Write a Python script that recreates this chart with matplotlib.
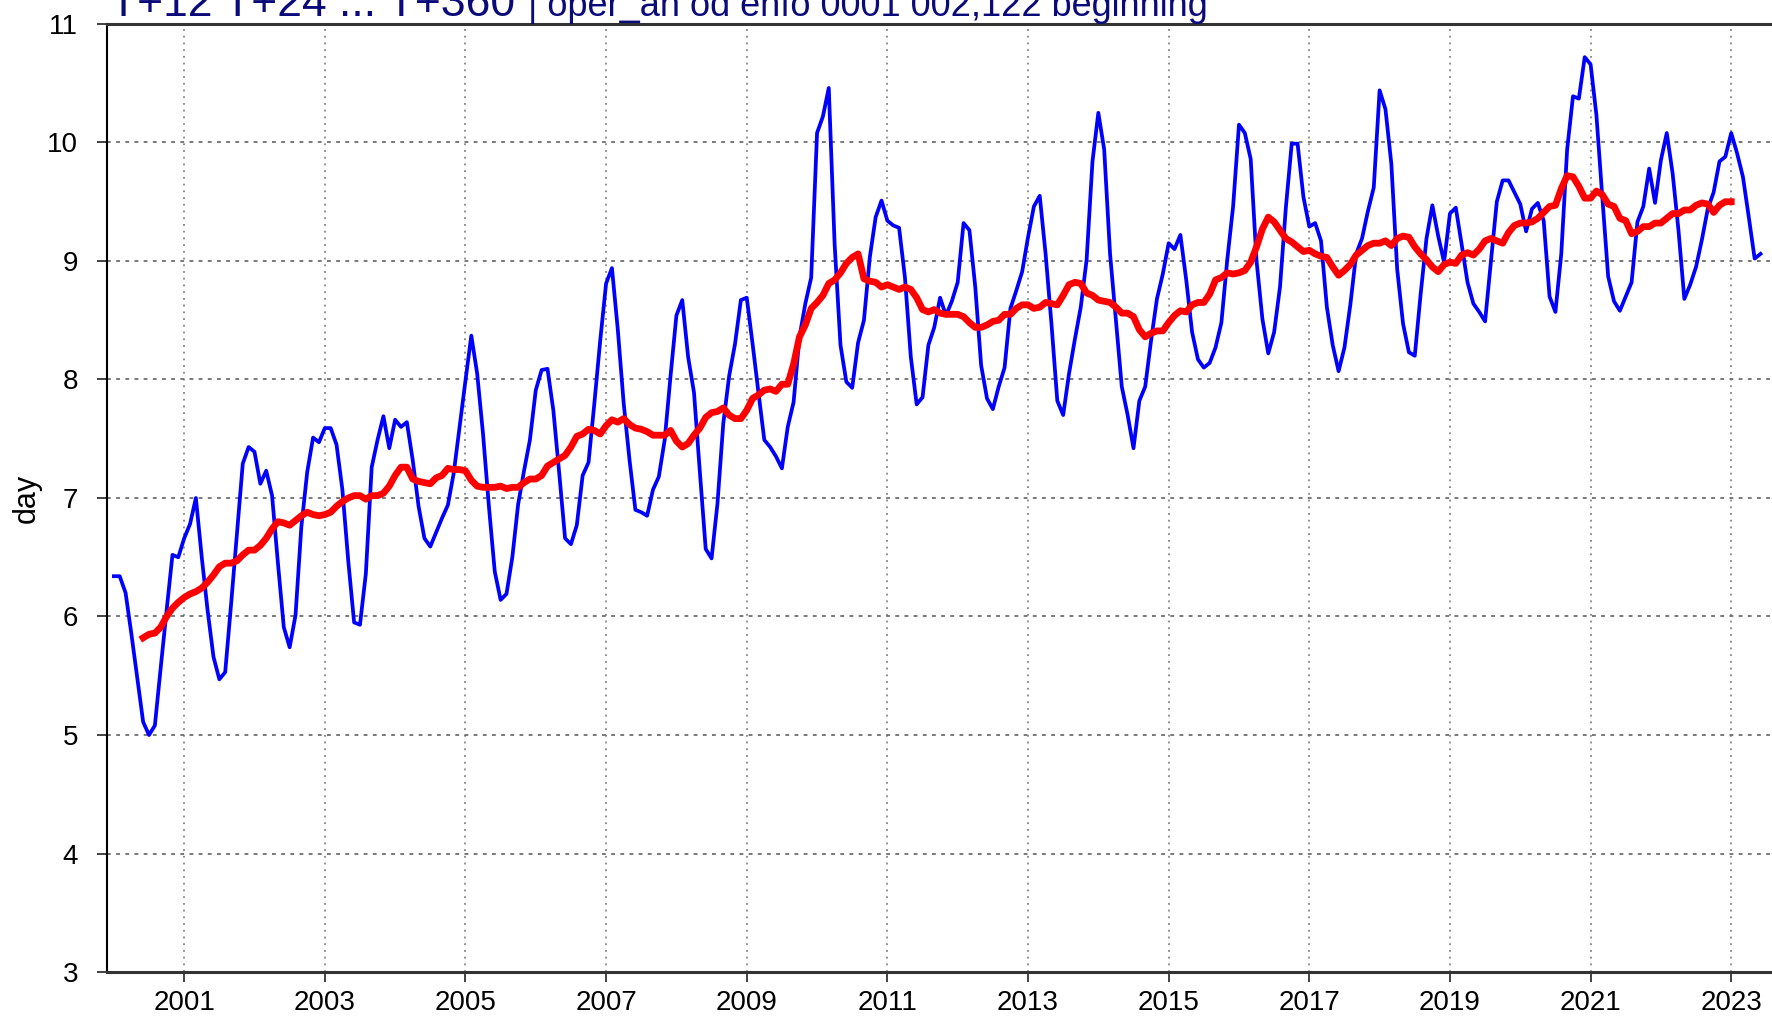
import numpy as np
import matplotlib
matplotlib.use("Agg")
import matplotlib.pyplot as plt

plt.rcParams["font.family"] = ["Liberation Sans", "DejaVu Sans"]

# monthly values, Jan 2000 .. Jun 2023
monthly = [
    6.34, 6.34, 6.20, 5.85, 5.48, 5.11, 5.00, 5.08, 5.57, 6.05, 6.52, 6.50,
    6.66, 6.78, 7.00, 6.50, 6.05, 5.66, 5.47, 5.53, 6.10, 6.70, 7.29, 7.43,
    7.39, 7.12, 7.23, 7.02, 6.45, 5.91, 5.74, 6.01, 6.76, 7.22, 7.51, 7.47,
    7.59, 7.59, 7.45, 7.07, 6.47, 5.95, 5.93, 6.36, 7.26, 7.49, 7.69, 7.42,
    7.66, 7.60, 7.64, 7.32, 6.93, 6.66, 6.59, 6.71, 6.83, 6.94, 7.21, 7.60,
    7.99, 8.37, 8.05, 7.54, 6.93, 6.38, 6.14, 6.19, 6.50, 6.95, 7.23, 7.49,
    7.91, 8.08, 8.09, 7.74, 7.21, 6.66, 6.61, 6.77, 7.19, 7.30, 7.80, 8.33,
    8.81, 8.94, 8.42, 7.80, 7.32, 6.90, 6.88, 6.85, 7.07, 7.18, 7.49, 8.03,
    8.54, 8.67, 8.19, 7.89, 7.22, 6.57, 6.49, 6.95, 7.63, 8.03, 8.30, 8.67,
    8.69, 8.30, 7.89, 7.49, 7.43, 7.35, 7.25, 7.60, 7.81, 8.36, 8.64, 8.86,
    10.08, 10.22, 10.46, 9.14, 8.29, 7.98, 7.93, 8.31, 8.50, 9.03, 9.37, 9.51,
    9.34, 9.30, 9.28, 8.86, 8.19, 7.79, 7.85, 8.29, 8.44, 8.69, 8.54, 8.66,
    8.82, 9.32, 9.26, 8.78, 8.12, 7.84, 7.75, 7.94, 8.10, 8.60, 8.75, 8.91,
    9.20, 9.46, 9.55, 9.06, 8.47, 7.82, 7.70, 8.05, 8.34, 8.61, 9.01, 9.84,
    10.25, 9.94, 9.06, 8.50, 7.94, 7.70, 7.42, 7.82, 7.94, 8.33, 8.68, 8.89,
    9.15, 9.10, 9.22, 8.84, 8.40, 8.17, 8.10, 8.14, 8.27, 8.48, 9.01, 9.46,
    10.15, 10.08, 9.86, 9.00, 8.51, 8.22, 8.40, 8.78, 9.45, 9.99, 9.99, 9.54,
    9.29, 9.32, 9.17, 8.61, 8.29, 8.07, 8.27, 8.63, 9.06, 9.19, 9.42, 9.62,
    10.44, 10.28, 9.82, 8.93, 8.47, 8.23, 8.20, 8.72, 9.19, 9.47, 9.21, 8.99,
    9.40, 9.45, 9.14, 8.82, 8.64, 8.57, 8.49, 9.00, 9.50, 9.68, 9.68, 9.58,
    9.48, 9.25, 9.44, 9.49, 9.34, 8.70, 8.57, 9.06, 9.94, 10.39, 10.37, 10.72,
    10.66, 10.23, 9.54, 8.87, 8.66, 8.58, 8.70, 8.82, 9.33, 9.46, 9.78, 9.49,
    9.85, 10.08, 9.74, 9.26, 8.68, 8.80, 8.95, 9.18, 9.44, 9.58, 9.84, 9.88,
    10.08, 9.91, 9.71, 9.37, 9.02, 9.06,
]

# 12-month running mean, Jun 2000 .. Jan 2023
running = [
    5.82, 5.85, 5.86, 5.91, 6.00, 6.07, 6.12,
    6.16, 6.19, 6.21, 6.24, 6.29, 6.35, 6.42, 6.45, 6.45, 6.47, 6.52, 6.56,
    6.56, 6.60, 6.66, 6.74, 6.80, 6.79, 6.77, 6.81, 6.85, 6.88, 6.86, 6.85,
    6.86, 6.88, 6.93, 6.97, 7.00, 7.02, 7.02, 6.99, 7.02, 7.02, 7.04, 7.10,
    7.19, 7.26, 7.26, 7.16, 7.14, 7.13, 7.12, 7.17, 7.19, 7.25, 7.24, 7.24,
    7.23, 7.15, 7.10, 7.09, 7.09, 7.09, 7.10, 7.08, 7.09, 7.09, 7.13, 7.16,
    7.16, 7.19, 7.27, 7.30, 7.33, 7.36, 7.43, 7.52, 7.54, 7.58, 7.57, 7.54,
    7.61, 7.66, 7.64, 7.67, 7.62, 7.59, 7.58, 7.56, 7.53, 7.53, 7.53, 7.57,
    7.48, 7.43, 7.46, 7.53, 7.59, 7.68, 7.72, 7.73, 7.76, 7.70, 7.67, 7.67,
    7.74, 7.84, 7.87, 7.91, 7.92, 7.90, 7.96, 7.96, 8.13, 8.36, 8.46, 8.60,
    8.65, 8.71, 8.81, 8.84, 8.90, 8.98, 9.03, 9.06, 8.85, 8.83, 8.82, 8.78,
    8.80, 8.78, 8.76, 8.78, 8.76, 8.69, 8.59, 8.57, 8.59, 8.56, 8.55, 8.55,
    8.55, 8.53, 8.48, 8.44, 8.44, 8.46, 8.49, 8.50, 8.55, 8.55, 8.60, 8.63,
    8.63, 8.60, 8.61, 8.65, 8.64, 8.63, 8.71, 8.80, 8.82, 8.81, 8.73, 8.71,
    8.67, 8.66, 8.65, 8.61, 8.56, 8.56, 8.53, 8.42, 8.36, 8.39, 8.41, 8.41,
    8.48, 8.54, 8.58, 8.57, 8.63, 8.65, 8.65, 8.72, 8.84, 8.86, 8.90, 8.89,
    8.90, 8.92, 8.99, 9.12, 9.27, 9.37, 9.33, 9.26, 9.19, 9.16, 9.12, 9.08,
    9.09, 9.06, 9.04, 9.03, 8.95, 8.88, 8.92, 8.97, 9.05, 9.09, 9.13, 9.15,
    9.15, 9.17, 9.13, 9.19, 9.21, 9.20, 9.12, 9.06, 9.01, 8.95, 8.91, 8.97,
    8.99, 8.98, 9.05, 9.07, 9.05, 9.10, 9.17, 9.19, 9.17, 9.15, 9.24, 9.30,
    9.32, 9.32, 9.33, 9.36, 9.41, 9.46, 9.47, 9.61, 9.72, 9.71, 9.63, 9.53,
    9.53, 9.59, 9.56, 9.48, 9.46, 9.36, 9.34, 9.23, 9.25, 9.29, 9.29, 9.32,
    9.32, 9.36, 9.40, 9.40, 9.43, 9.43, 9.47, 9.49, 9.48, 9.41, 9.47, 9.50,
    9.50,
]

start_year = 2000
running_offset = 5  # first running-mean month (Jun 2000)
year_ticks = list(range(2001, 2024, 2))
value_ticks = list(range(3, 12))
title_main = "T+12 T+24 ... T+360"
title_rest = "| oper_an od enfo 0001 002,122 beginning"

x_month = start_year + np.arange(len(monthly)) / 12.0
x_run = start_year + (np.arange(len(running)) + running_offset) / 12.0

fig = plt.figure(figsize=(17.72, 10.16), dpi=100)
ax = fig.add_axes([0.0606, 0.0433, 0.9394, 0.9331])

ax.plot(x_month, monthly, color="#0000ff", lw=2.7, zorder=3)
ax.plot(x_run, running, color="#ff0000", lw=4.9, zorder=4)

ax.set_xlim(1999.908, 2023.58)
ax.set_ylim(3, 11)
ax.set_xticks(year_ticks)
ax.set_xticklabels([str(y) for y in year_ticks])
ax.set_yticks(value_ticks)

for y in value_ticks[1:-1]:
    ax.axhline(y, color="#555555", lw=1.1, ls=(0, (2.5, 3.5)), zorder=1)
for x in year_ticks:
    ax.axvline(x, color="#707070", lw=1.1, ls=(0, (1.2, 3.2)), zorder=1)

ax.tick_params(axis="both", direction="out", length=7, width=1.2,
               labelsize=20, color="#222222")
ax.tick_params(axis="y", pad=14)
ax.tick_params(axis="x", pad=6)

ax.spines["right"].set_visible(False)
ax.spines["left"].set_linewidth(1.5)
for s in ("top", "bottom"):
    ax.spines[s].set_linewidth(2.2)
    ax.spines[s].set_color("#333333")

ax.set_ylabel("day", fontsize=22)
ax.yaxis.set_label_coords(-0.0395, 0.5)

fig.text(0.062, 0.9845, title_main, fontsize=32, color="#0a0a7a",
         va="baseline", ha="left")
fig.text(0.298, 0.9845, title_rest, fontsize=26, color="#0a0a7a",
         va="baseline", ha="left")

fig.savefig("out.png", dpi=100)
